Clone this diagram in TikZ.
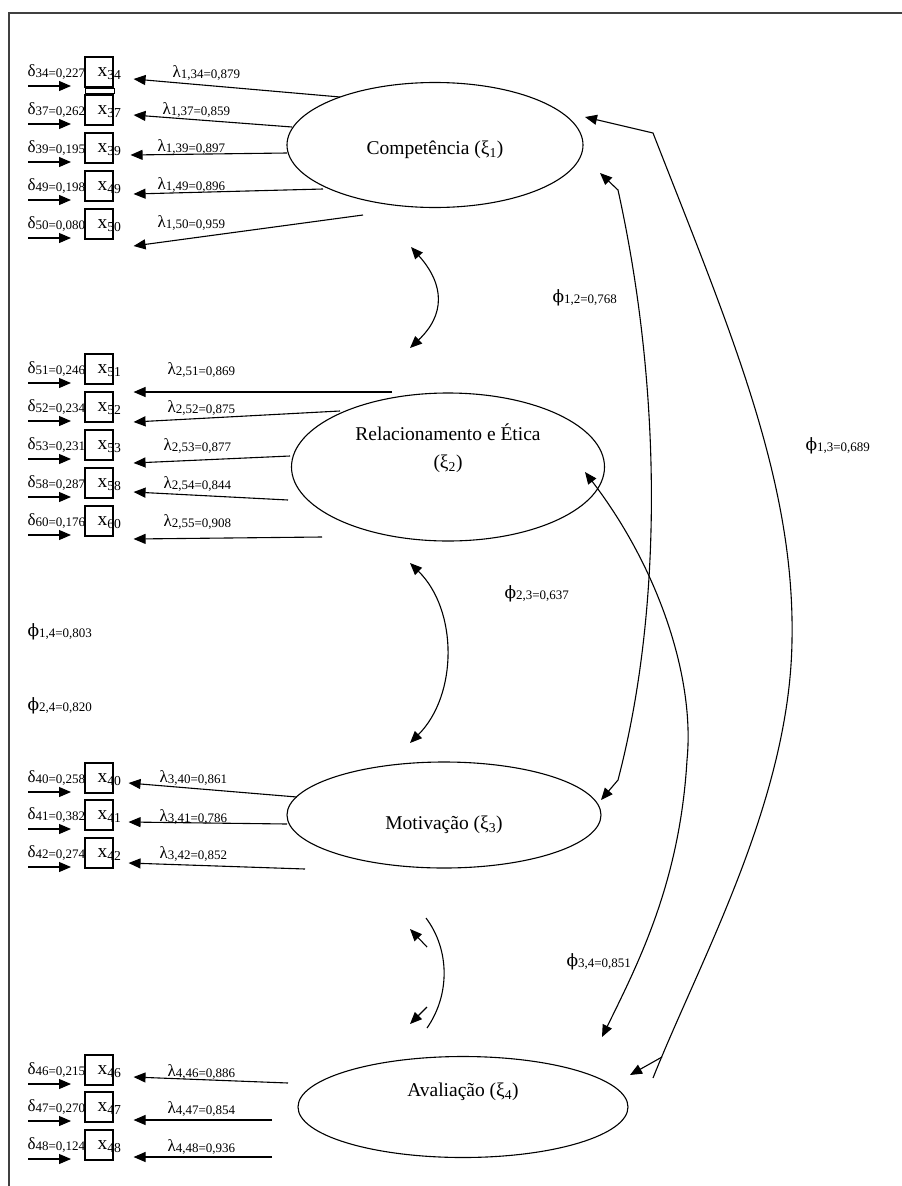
\documentclass[tikz,border=0pt]{standalone}
\usepackage{fontspec}
\setmainfont{Liberation Serif}
\newfontfamily\phifont{DejaVu Serif}
\usepackage{tikz}
\usetikzlibrary{arrows.meta, shapes.geometric}
\newcommand{\latfont}{\fontsize{19.5}{28}\selectfont}
\newcommand{\parfont}{\fontsize{13}{15}\selectfont}
\newcommand{\sub}[1]{\textsubscript{#1}}
\newcommand{\gr}[3]{{\fontsize{17}{17}\selectfont #1}\raisebox{-1.5pt}{#2=#3}}

\begin{document}
\begin{tikzpicture}[x=1pt, y=-1pt, line width=1.1pt,
    lat/.style={shape=ellipse, draw=black, inner sep=0pt},
    ind/.style={shape=rectangle, draw=black, fill=white, minimum width=28pt, minimum height=30pt, inner sep=0pt},
    latname/.style={font=\latfont, inner sep=0pt, align=center},
    xlab/.style={font=\latfont, inner sep=0pt, anchor=base west},
    parlab/.style={font=\parfont, inner sep=0pt, anchor=base west},
    arr/.style={-{Triangle[length=12pt, width=10pt]}},
    biarr/.style={{Triangle[length=12pt, width=10pt]}-{Triangle[length=12pt, width=10pt]}}]
    \useasboundingbox (0,0) rectangle (902,1186);

    % frame
    \coordinate (tl) at (9,13);
    \coordinate (tr) at (902,13);
    \coordinate (bl) at (9,1186);
    \draw[black!75, line width=1.5pt] (tr) -- (tl) -- (bl);

    % latent variables
    \node[lat, minimum width=296pt, minimum height=125pt] (xi1) at (435,145) {};
    \node[lat, minimum width=313pt, minimum height=148pt] (xi2) at (448,467) {};
    \node[lat, minimum width=314pt, minimum height=106pt] (xi3) at (444,815) {};
    \node[lat, minimum width=330pt, minimum height=101pt] (xi4) at (463,1107) {};
    \node[latname] (t1) at (435,150) {Competência (ξ\sub{1})};
    \node[latname] (t2) at (448,448) {Relacionamento e Ética\\(ξ\sub{2})};
    \node[latname] (t3) at (444,825) {Motivação (ξ\sub{3})};
    \node[latname] (t4) at (463,1092) {Avaliação (ξ\sub{4})};

    % error terms
    \node[parlab] (d34) at (27,76)   {\gr{δ}{34}{0,227}};
    \node[parlab] (d37) at (27,114)  {\gr{δ}{37}{0,262}};
    \node[parlab] (d39) at (27,152)  {\gr{δ}{39}{0,195}};
    \node[parlab] (d49) at (27,190)  {\gr{δ}{49}{0,198}};
    \node[parlab] (d50) at (27,228)  {\gr{δ}{50}{0,080}};
    \node[parlab] (d51) at (27,373)  {\gr{δ}{51}{0,246}};
    \node[parlab] (d52) at (27,411)  {\gr{δ}{52}{0,234}};
    \node[parlab] (d53) at (27,449)  {\gr{δ}{53}{0,231}};
    \node[parlab] (d58) at (27,487)  {\gr{δ}{58}{0,287}};
    \node[parlab] (d60) at (27,525)  {\gr{δ}{60}{0,176}};
    \node[parlab] (d40) at (27,782)  {\gr{δ}{40}{0,258}};
    \node[parlab] (d41) at (27,819)  {\gr{δ}{41}{0,382}};
    \node[parlab] (d42) at (27,857)  {\gr{δ}{42}{0,274}};
    \node[parlab] (d46) at (27,1074) {\gr{δ}{46}{0,215}};
    \node[parlab] (d47) at (27,1111) {\gr{δ}{47}{0,270}};
    \node[parlab] (d48) at (27,1149) {\gr{δ}{48}{0,124}};

    % indicators
    \node[ind] (x34) at (99,72)   {};
    \node[ind] (x37) at (99,110)  {};
    \node[ind] (x39) at (99,148)  {};
    \node[ind] (x49) at (99,186)  {};
    \node[ind] (x50) at (99,224)  {};
    \node[ind] (x51) at (99,369)  {};
    \node[ind] (x52) at (99,407)  {};
    \node[ind] (x53) at (99,445)  {};
    \node[ind] (x58) at (99,483)  {};
    \node[ind] (x60) at (99,521)  {};
    \node[ind] (x40) at (99,778)  {};
    \node[ind] (x41) at (99,815)  {};
    \node[ind] (x42) at (99,853)  {};
    \node[ind] (x46) at (99,1070) {};
    \node[ind] (x47) at (99,1107) {};
    \node[ind] (x48) at (99,1145) {};
    \draw ([shift={(1,1)}]x34.south west) rectangle ([shift={(1,-1)}]x37.north east);
    \foreach \n in {34,37,39,49,50,51,52,53,58,60,40,41,42,46,47,48} {
        \node[xlab] (n\n) at ([shift={(-2,4)}]x\n.center) {x\sub{\n}};
        \draw[arr] ([shift={(1,10)}]d\n.base west) -- +(43,0);
    }

    % loadings
    \coordinate (e34) at (340,97);
    \coordinate (e37) at (292,127);
    \coordinate (e39) at (287,153);
    \coordinate (e49) at (323,189);
    \coordinate (e50) at (363,215);
    \coordinate (e51) at (392,392);
    \coordinate (e52) at (340,411);
    \coordinate (e53) at (290,456);
    \coordinate (e58) at (288,500);
    \coordinate (e60) at (322,537);
    \coordinate (e40) at (297,797);
    \coordinate (e41) at (287,824);
    \coordinate (e42) at (305,869);
    \coordinate (e46) at (288,1083);
    \coordinate (e47) at (272,1120);
    \coordinate (e48) at (272,1157);
    \draw[arr] (e34) -- ([shift={(20,7)}]x34.east);
    \draw[arr] (e37) -- ([shift={(20,5)}]x37.east);
    \draw[arr] (e39) -- ([shift={(17,7)}]x39.east);
    \draw[arr] (e49) -- ([shift={(20,8)}]x49.east);
    \draw[arr] (e50) -- ([shift={(20,22)}]x50.east);
    \draw[arr] (e51) -- ([shift={(20,23)}]x51.east);
    \draw[arr] (e52) -- ([shift={(20,15)}]x52.east);
    \draw[arr] (e53) -- ([shift={(20,18)}]x53.east);
    \draw[arr] (e58) -- ([shift={(20,9)}]x58.east);
    \draw[arr] (e60) -- ([shift={(20,18)}]x60.east);
    \draw[arr] (e40) -- ([shift={(15,5)}]x40.east);
    \draw[arr] (e41) -- ([shift={(15,7)}]x41.east);
    \draw[arr] (e42) -- ([shift={(15,10)}]x42.east);
    \draw[arr] (e46) -- ([shift={(20,7)}]x46.east);
    \draw[arr] (e47) -- ([shift={(20,13)}]x47.east);
    \draw[arr] (e48) -- ([shift={(20,12)}]x48.east);
    \node[parlab] (l34) at (172,77)   {\gr{λ}{1,34}{0,879}};
    \node[parlab] (l37) at (162,114)  {\gr{λ}{1,37}{0,859}};
    \node[parlab] (l39) at (157,151)  {\gr{λ}{1,39}{0,897}};
    \node[parlab] (l49) at (157,189)  {\gr{λ}{1,49}{0,896}};
    \node[parlab] (l50) at (157,227)  {\gr{λ}{1,50}{0,959}};
    \node[parlab] (l51) at (167,374)  {\gr{λ}{2,51}{0,869}};
    \node[parlab] (l52) at (167,412)  {\gr{λ}{2,52}{0,875}};
    \node[parlab] (l53) at (163,450)  {\gr{λ}{2,53}{0,877}};
    \node[parlab] (l58) at (163,488)  {\gr{λ}{2,54}{0,844}};
    \node[parlab] (l60) at (163,526)  {\gr{λ}{2,55}{0,908}};
    \node[parlab] (l40) at (159,782)  {\gr{λ}{3,40}{0,861}};
    \node[parlab] (l41) at (159,821)  {\gr{λ}{3,41}{0,786}};
    \node[parlab] (l42) at (159,858)  {\gr{λ}{3,42}{0,852}};
    \node[parlab] (l46) at (167,1076) {\gr{λ}{4,46}{0,886}};
    \node[parlab] (l47) at (167,1113) {\gr{λ}{4,47}{0,854}};
    \node[parlab] (l48) at (167,1151) {\gr{λ}{4,48}{0,936}};

    % correlations
    \coordinate (c12a) at (411,247);
    \coordinate (c12b) at (410,348);
    \coordinate (c23a) at (410,563);
    \coordinate (c23b) at (410,743);
    \coordinate (c34a) at (426,918);
    \coordinate (c34b) at (427,1028);
    \coordinate (c34c) at (427,947);
    \coordinate (c34d) at (410,929);
    \coordinate (c34e) at (427,1007);
    \coordinate (c34f) at (410,1024);
    \draw[biarr] (c12a) .. controls (445,285) and (445,315) .. (c12b);
    \draw[biarr] (c23a) .. controls (458,610) and (458,695) .. (c23b);
    \draw (c34a) .. controls (450,950) and (450,995) .. (c34b);
    \draw[arr] (c34c) -- (c34d);
    \draw[arr] (c34e) -- (c34f);

    \coordinate (p12a) at (600,173);
    \coordinate (p12b) at (618,190);
    \coordinate (p12c) at (618,780);
    \coordinate (p12d) at (601,800);
    \coordinate (p13a) at (585,117);
    \coordinate (p13b) at (653,133);
    \coordinate (p13c) at (792,640);
    \coordinate (p13d) at (653,1078);
    \coordinate (p13e) at (662,1057);
    \coordinate (p13f) at (630,1075);
    \coordinate (p23a) at (585,472);
    \coordinate (p23b) at (687,760);
    \coordinate (p23c) at (602,1037);
    \draw[biarr] (p12a) -- (p12b) .. controls (660,380) and (665,600) .. (p12c) -- (p12d);
    \draw[{Triangle[length=12pt, width=10pt]}-] (p13a) -- (p13b) .. controls (730,330) and (795,480) .. (p13c)
        .. controls (790,800) and (700,960) .. (p13d);
    \draw[arr] (p13e) -- (p13f);
    \draw[biarr] (p23a) .. controls (660,570) and (695,680) .. (p23b) .. controls (680,880) and (640,960) .. (p23c);

    \node[parlab] (f12) at (552,302) {\gr{\phifont ϕ}{1,2}{0,768}};
    \node[parlab] (f13) at (805,450) {\gr{\phifont ϕ}{1,3}{0,689}};
    \node[parlab] (f23) at (504,598) {\gr{\phifont ϕ}{2,3}{0,637}};
    \node[parlab] (f34) at (566,966) {\gr{\phifont ϕ}{3,4}{0,851}};
    \node[parlab] (f14) at (27,636)  {\gr{\phifont ϕ}{1,4}{0,803}};
    \node[parlab] (f24) at (27,710)  {\gr{\phifont ϕ}{2,4}{0,820}};
\end{tikzpicture}
\end{document}
